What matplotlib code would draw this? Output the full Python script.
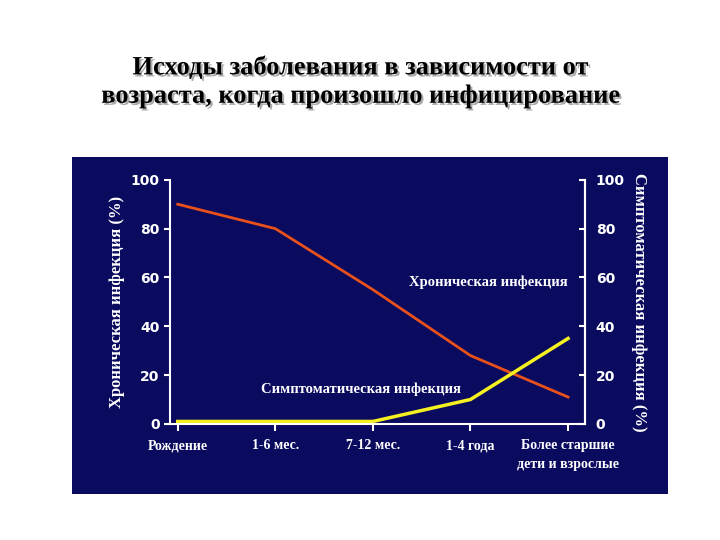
import matplotlib
matplotlib.use('Agg')
import matplotlib.pyplot as plt
import matplotlib.patheffects as pe
from matplotlib.patches import Rectangle

categories = ['Рождение', '1-6 мес.', '7-12 мес.', '1-4 года', 'Более старшие\nдети и взрослые']
chronic = [90, 80, 55, 28, 11]
symptomatic = [1, 1, 1, 10, 35]
title = 'Исходы заболевания в зависимости от\nвозраста, когда произошло инфицирование'

navy = '#0a0a5e'
fig = plt.figure(figsize=(7.2, 5.4), dpi=100)
fig.patch.set_facecolor('white')

# dark panel behind the axes
fig.patches.append(Rectangle((0.1, 0.085), 0.828, 0.624, transform=fig.transFigure,
                             facecolor=navy, edgecolor='none', zorder=-5))

# title with a grey drop shadow
fig.text(0.5, 0.848, title, ha='center', va='center', fontsize=19, fontweight='bold',
         family='Liberation Serif', color='black', linespacing=1.3,
         path_effects=[pe.withSimplePatchShadow(offset=(1.5, -1.5), shadow_rgbFace='#888888', alpha=0.7)])

ax = fig.add_axes([0.236, 0.215, 0.576, 0.452])
ax.patch.set_alpha(0)
x = list(range(len(categories)))
ax.plot(x, chronic, color='#e8501c', lw=2)
ax.plot(x, symptomatic, color='#f5f020', lw=2.5)
ax.set_xlim(-0.08, 4.17)
ax.set_ylim(0, 100)
ax.set_yticks([0, 20, 40, 60, 80, 100])
ax.set_xticks(x)
ax.set_xticklabels(categories, fontsize=10, fontweight='bold', family='Liberation Serif',
                   color='white', linespacing=1.6)
ax.tick_params(axis='y', colors='white', labelsize=10, direction='out', length=4, width=1.5)
ax.tick_params(axis='x', colors='white', direction='out', length=5, width=1.5, pad=6)
for l in ax.get_yticklabels():
    l.set_fontweight('bold')
ax.spines['top'].set_visible(False)
for s in ['left', 'bottom', 'right']:
    ax.spines[s].set_color('white')
    ax.spines[s].set_linewidth(1.5)

ax.set_ylabel('Хроническая инфекция (%)', color='white', fontsize=12, fontweight='bold',
              family='Liberation Serif', labelpad=4)

ax2 = ax.twinx()
ax2.set_ylim(0, 100)
ax2.set_yticks([0, 20, 40, 60, 80, 100])
ax2.tick_params(axis='y', colors='white', labelsize=10, direction='in', length=4, width=1.5, pad=8)
for l in ax2.get_yticklabels():
    l.set_fontweight('bold')
for s in ['top', 'left', 'bottom']:
    ax2.spines[s].set_visible(False)
ax2.spines['right'].set_color('white')
ax2.spines['right'].set_linewidth(1.5)
ax2.set_ylabel('Симптоматическая инфекция (%)', color='white', fontsize=12, fontweight='bold',
               family='Liberation Serif', rotation=270, labelpad=16)

ax.text(4.0, 58, 'Хроническая инфекция', color='white', fontsize=10.5, fontweight='bold',
        family='Liberation Serif', ha='right', va='center')
ax.text(2.9, 14, 'Симптоматическая инфекция', color='white', fontsize=10.5, fontweight='bold',
        family='Liberation Serif', ha='right', va='center')

fig.savefig('out.png', dpi=100)
